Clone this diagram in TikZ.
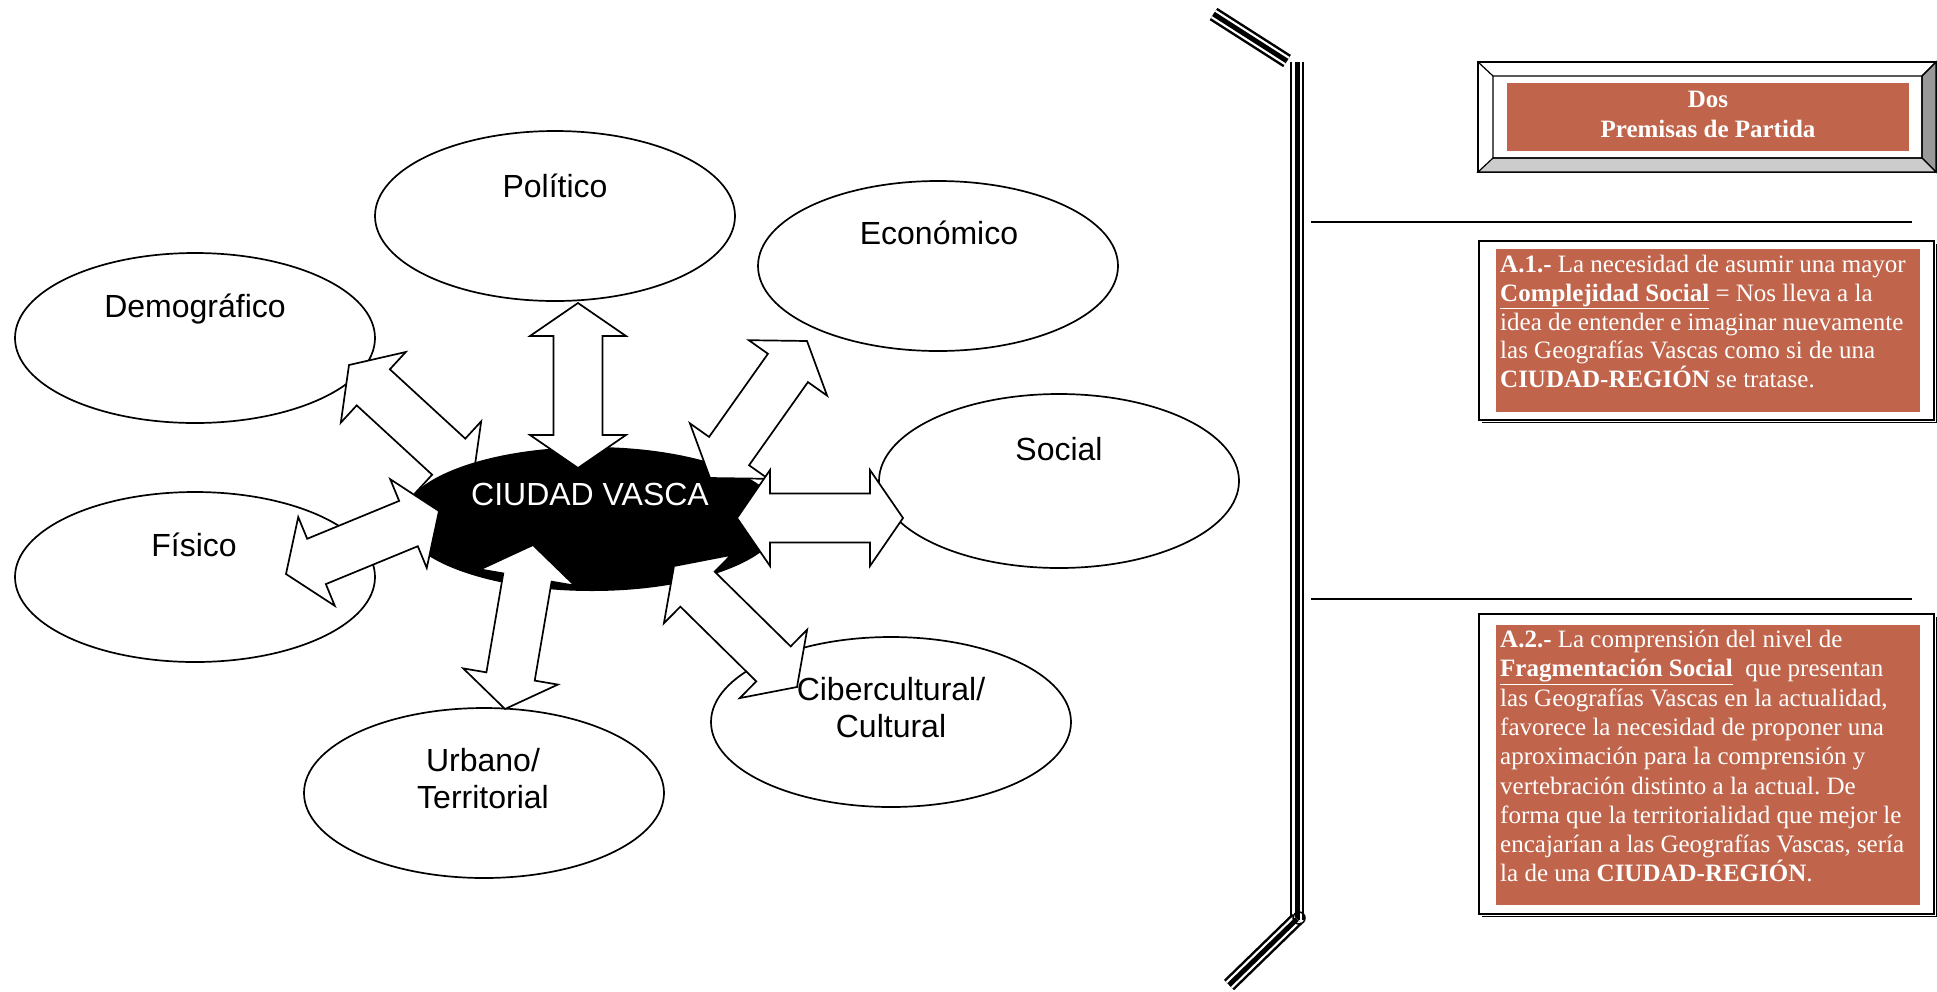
\documentclass[tikz,border=0pt]{standalone}
\usepackage{fontspec}
\setmainfont{Liberation Serif}
\newfontfamily\arialf{Liberation Sans}
\usetikzlibrary{calc,shapes.geometric}
\definecolor{boxred}{HTML}{C0654B}
\frenchspacing
\newcommand{\dblarrow}[2]{%
  \coordinate (h1) at ($(#1)!33pt!(#2)$);
  \coordinate (h2) at ($(#2)!33pt!(#1)$);
  \draw[blockarrow] (#1) -- ($(h1)!48pt!90:(#2)$) -- ($(h1)!24.5pt!90:(#2)$)
    -- ($(h2)!24.5pt!-90:(#1)$) -- ($(h2)!48pt!-90:(#1)$) -- (#2)
    -- ($(h2)!48pt!90:(#1)$) -- ($(h2)!24.5pt!90:(#1)$)
    -- ($(h1)!24.5pt!-90:(#2)$) -- ($(h1)!48pt!-90:(#2)$) -- cycle;}
\begin{document}
\begin{tikzpicture}[x=1pt,y=-1pt,
  bubble/.style={ellipse, draw=black, fill=white, line width=1.7pt, inner sep=0pt, minimum width=360pt, minimum height=170pt},
  lab/.style={font=\arialf\fontsize{32}{37}\selectfont, inner sep=0pt, align=center},
  blockarrow/.style={draw=black, fill=white, line width=1.7pt, line join=miter},
  paratext/.style={text=white, inner sep=0pt, align=left, anchor=north west},
  triple/.style={line width=2.5pt, double=white, double distance=9.5pt, line cap=butt},
  tripmid/.style={line width=5pt, line cap=butt},
]
\useasboundingbox (0,0) rectangle (1937,991);
\fill[white] (0,0) rectangle (1937,991);

% outer ellipses
\node[bubble] (pol) at (555,216) {};
\node[bubble] (eco) at (938,266) {};
\node[bubble] (dem) at (195,338) {};
\node[bubble, minimum height=174pt] (soc) at (1059,481) {};
\node[bubble] (fis) at (195,577) {};
\node[bubble] (cib) at (891,722) {};
\node[bubble] (urb) at (484,793) {};

\node[lab, anchor=base] (pollab) at (555,197) {Político};
\node[lab, anchor=base] (ecolab) at (939,244) {Económico};
\node[lab, anchor=base] (demlab) at (195,317) {Demográfico};
\node[lab, anchor=base] (soclab) at (1059,460) {Social};
\node[lab, anchor=base] (fislab) at (194,556) {Físico};
\node[lab, anchor=north] (ciblab) at (891,677) {Cibercultural/\\Cultural};
\node[lab, anchor=north] (urblab) at (483,748) {Urbano/\\Territorial};

% arrow end points
\coordinate (pol1) at (578,303);  \coordinate (pol2) at (578,468);
\coordinate (dem1) at (349,365);  \coordinate (dem2) at (473,479);
\coordinate (eco1) at (807,341);  \coordinate (eco2) at (710,478);
\coordinate (soc1) at (903,518);  \coordinate (soc2) at (737,518);
\coordinate (fis1) at (286,574);  \coordinate (fis2) at (439,511);
\coordinate (cib1) at (797,687);  \coordinate (cib2) at (674,566);
\coordinate (urb1) at (505,709);  \coordinate (urb2) at (533,545);

\dblarrow{dem1}{dem2}

% centre
\node[ellipse, fill=black, inner sep=0pt, minimum width=380pt, minimum height=144pt] (cv) at (592,519) {};

\dblarrow{pol1}{pol2}
\dblarrow{eco1}{eco2}
\dblarrow{soc1}{soc2}
\dblarrow{fis1}{fis2}
\dblarrow{cib1}{cib2}
\dblarrow{urb1}{urb2}

\node[lab, anchor=base, text=white] (cvlab) at (590,505) {CIUDAD VASCA};

% separator (triple lines)
\draw[triple] (1213.5,14) -- (1287,61);
\draw[tripmid] (1213.5,14) -- (1287,61);
\draw[triple] (1297,62) -- (1297,920);
\draw[tripmid] (1297,62) -- (1297,920);
\draw[triple] (1297,919) -- (1229,985);
\draw[tripmid] (1297,919) -- (1229,985);
\draw[line width=1.5pt] (1299,918) circle (6);

\draw[line width=2pt] (1311,222) -- (1912,222);
\draw[line width=2pt] (1311,599) -- (1912,599);

% title box
\draw[line width=1.5pt, fill=white] (1478,62) rectangle (1936,172);
\filldraw[fill=black!40, line width=1.2pt] (1936,62) -- (1936,172) -- (1922,158) -- (1922,76) -- cycle;
\filldraw[fill=black!20, line width=1.2pt] (1478,172) -- (1936,172) -- (1922,158) -- (1493,158) -- cycle;
\draw[line width=1.2pt] (1478,62) -- (1493,76) (1936,62) -- (1922,76) (1493,76) rectangle (1922,158);
\fill[boxred] (1507,83) rectangle (1909,151);
\node[font=\bfseries\fontsize{25}{30.5}\selectfont, text=white, align=center, inner sep=0pt] (title) at (1708,114.5) {Dos\\Premisas de Partida};

% A.1 box
\draw[line width=2pt] (1479,241) rectangle (1934,420);
\draw[line width=1.2pt] (1936.4,244) -- (1936.4,422.4) -- (1482,422.4);
\fill[boxred] (1496,249) rectangle (1920,412);
\node[paratext, font=\fontsize{25}{28.8}\selectfont] (a1) at (1500,255) {\textbf{A.1.-} La necesidad de asumir una mayor\\
\underline{\textbf{Complejidad Social}} = Nos lleva a la\\
idea de entender e imaginar nuevamente\\
las Geografías Vascas como si de una\\
\textbf{CIUDAD-REGIÓN} se tratase.};

% A.2 box
\draw[line width=2pt] (1479,614) rectangle (1934,914);
\draw[line width=1.2pt] (1936.4,617) -- (1936.4,916.4) -- (1482,916.4);
\fill[boxred] (1496,625) rectangle (1920,905);
\node[paratext, font=\fontsize{25}{29.3}\selectfont] (a2) at (1500,630) {\textbf{A.2.-} La comprensión del nivel de\\
\underline{\textbf{Fragmentación Social}}\ \ que presentan\\
las Geografías Vascas en la actualidad,\\
favorece la necesidad de proponer una\\
aproximación para la comprensión y\\
vertebración distinto a la actual. De\\
forma que la territorialidad que mejor le\\
encajarían a las Geografías Vascas, sería\\
la de una \textbf{CIUDAD-REGIÓN}.};
\end{tikzpicture}
\end{document}
